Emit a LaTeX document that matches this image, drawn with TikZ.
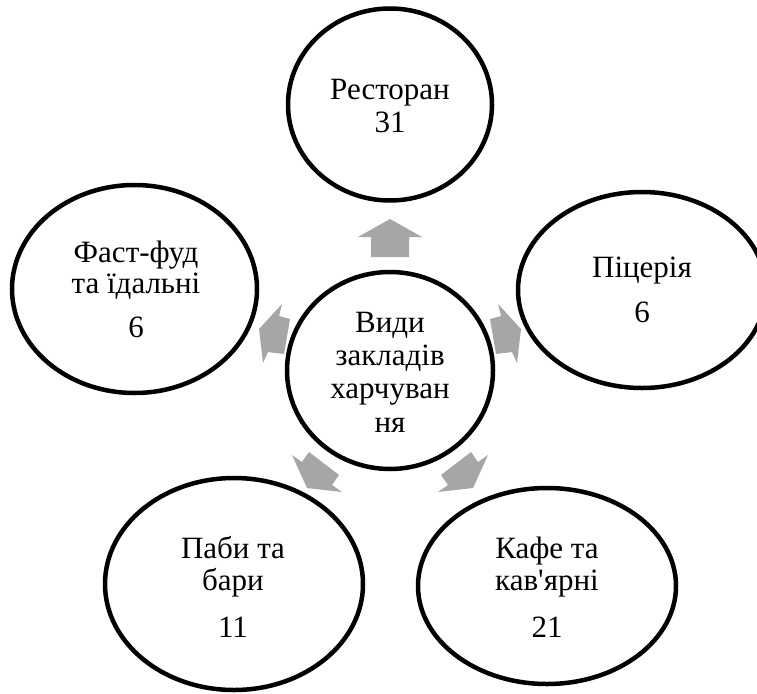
\documentclass[tikz,border=0pt]{standalone}
\usepackage{fontspec}
\setmainfont{Liberation Serif}
\newfontfamily\plainserif{Liberation Serif}
\usetikzlibrary{shapes.geometric}
\definecolor{arrgray}{RGB}{166,166,166}
\begin{document}
\begin{tikzpicture}[x=1pt,y=-1pt,
  bub/.style={draw=black, line width=4.5pt, ellipse, inner sep=0pt},
  lbl/.style={anchor=base, inner sep=0pt, font=\plainserif\fontsize{31}{33}\selectfont},
  blockarrow/.style={fill=arrgray, draw=none}]
\clip (0,0) rectangle (757,693);
\fill[white] (0,0) rectangle (757,693);
% ellipses
\node[bub, minimum width=206pt, minimum height=197pt] (hub) at (390,370.5) {};
\node[bub, minimum width=204pt, minimum height=192pt] (rest) at (390,104.5) {};
\node[bub, minimum width=245pt, minimum height=208pt] (fast) at (134.5,289) {};
\node[bub, minimum width=248pt, minimum height=196pt] (pizza) at (642,290) {};
\node[bub, minimum width=258pt, minimum height=212pt] (pub) at (234,584) {};
\node[bub, minimum width=258pt, minimum height=196pt] (cafe) at (547,586) {};
% arrows
\fill[blockarrow] (390,219) -- (422,237) -- (409,237) -- (409,257) -- (371,257) -- (371,237) -- (358,237) -- cycle;
\fill[blockarrow] (259,329) -- (282,304) -- (279,316) -- (290,319) -- (284,354) -- (268,352) -- (263,363) -- cycle;
\fill[blockarrow] (521,329) -- (498,304) -- (501,316) -- (490,319) -- (496,354) -- (512,352) -- (517,363) -- cycle;
\fill[blockarrow] (307,488) -- (292,455) -- (302,462) -- (309,452) -- (339,475) -- (332,485) -- (342,492) -- cycle;
\fill[blockarrow] (473,488) -- (488,455) -- (478,462) -- (471,452) -- (441,475) -- (448,485) -- (438,492) -- cycle;
% texts
\node[lbl] (hub1) at (390,332) {Види};
\node[lbl] (hub2) at (390,365) {закладів};
\node[lbl] (hub3) at (390,398) {харчуван};
\node[lbl] (hub4) at (390,432) {ня};
\node[lbl] (rest1) at (390,99) {Ресторан};
\node[lbl] (rest2) at (390,132) {31};
\node[lbl] (fast1) at (136,262) {Фаст-фуд};
\node[lbl] (fast2) at (136,293) {та їдальні};
\node[lbl] (fast3) at (136,337) {6};
\node[lbl] (pizza1) at (642,277) {Піцерія};
\node[lbl] (pizza2) at (642,322) {6};
\node[lbl] (pub1) at (233,558) {Паби та};
\node[lbl] (pub2) at (233,590) {бари};
\node[lbl] (pub3) at (233,637) {11};
\node[lbl] (cafe1) at (547,558) {Кафе та};
\node[lbl] (cafe2) at (547,590) {кав'ярні};
\node[lbl] (cafe3) at (547,637) {21};
\end{tikzpicture}
\end{document}
